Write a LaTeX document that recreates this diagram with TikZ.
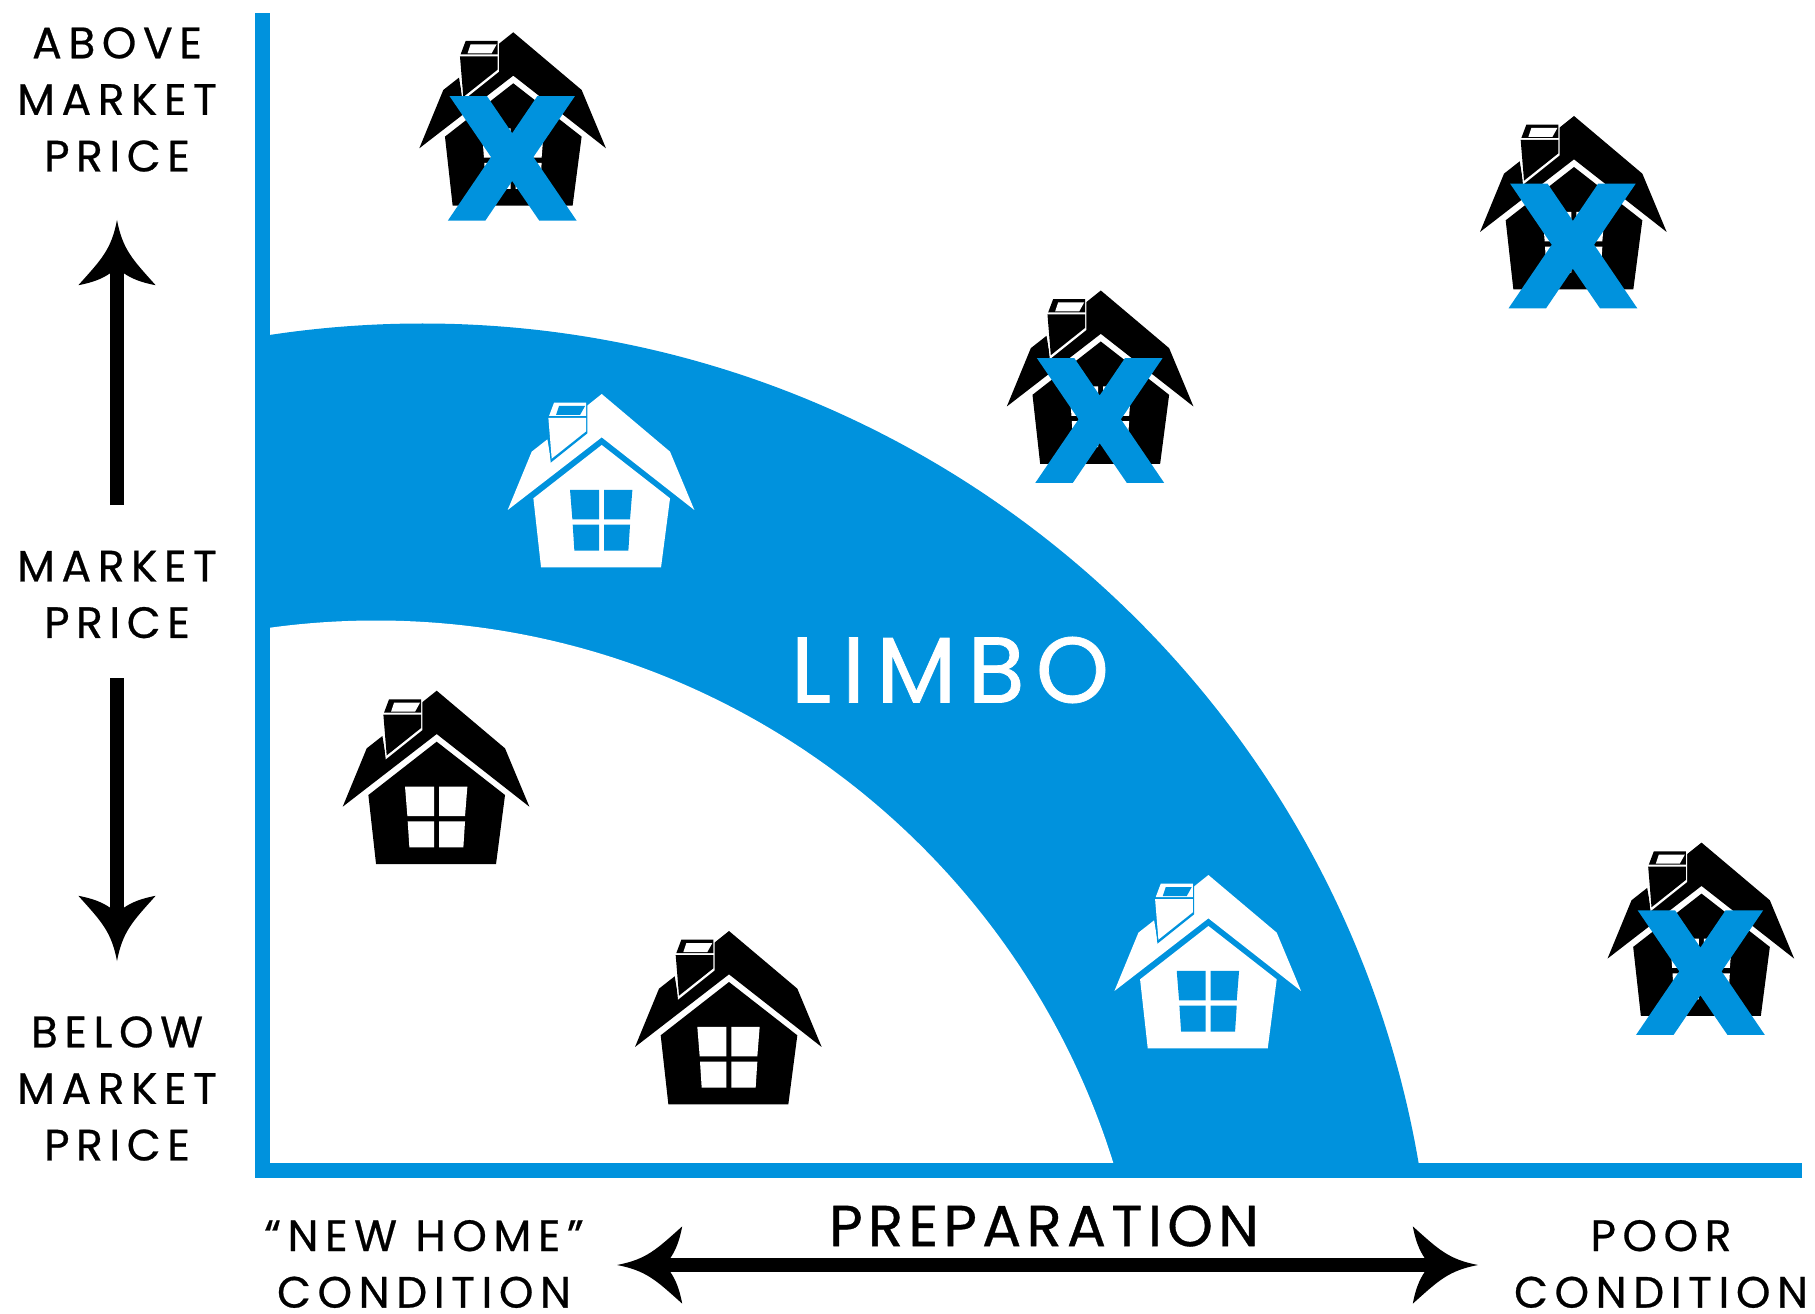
\documentclass[tikz,border=0pt]{standalone}
\usepackage{fontspec}
\setmainfont{Poppins}
\definecolor{limboblue}{HTML}{0092DD}
\pgfarrowsdeclare{swoop}{swoop}{
	\pgfarrowsleftextend{-1.04\pgflinewidth}
	\pgfarrowsrightextend{3.6\pgflinewidth}
}{
	\pgfsetdash{}{0pt}
	\pgfpathmoveto{\pgfqpoint{3.6\pgflinewidth}{0pt}}
	\pgfpathcurveto{\pgfqpoint{1.5\pgflinewidth}{.4\pgflinewidth}}{\pgfqpoint{.8\pgflinewidth}{1.1\pgflinewidth}}{\pgfqpoint{-1.04\pgflinewidth}{2.75\pgflinewidth}}
	\pgfpathcurveto{\pgfqpoint{-.85\pgflinewidth}{1.75\pgflinewidth}}{\pgfqpoint{-.6\pgflinewidth}{1.1\pgflinewidth}}{\pgfqpoint{-.2\pgflinewidth}{.5\pgflinewidth}}
	\pgfpathlineto{\pgfqpoint{-.2\pgflinewidth}{-.5\pgflinewidth}}
	\pgfpathcurveto{\pgfqpoint{-.6\pgflinewidth}{-1.1\pgflinewidth}}{\pgfqpoint{-.85\pgflinewidth}{-1.75\pgflinewidth}}{\pgfqpoint{-1.04\pgflinewidth}{-2.75\pgflinewidth}}
	\pgfpathcurveto{\pgfqpoint{.8\pgflinewidth}{-1.1\pgflinewidth}}{\pgfqpoint{1.5\pgflinewidth}{-.4\pgflinewidth}}{\pgfqpoint{3.6\pgflinewidth}{0pt}}
	\pgfpathclose
	\pgfusepathqfill
}
\tikzset{
	>=swoop,
	pics/cottage/.style 2 args={code={
		\fill[#1] (0,0)--(205,173)--(278,348)--(0,130)--(-282,348)--(-210,173)--(-163,136)--(-152,200)--(-45,116)--(-45,36)--cycle;
		\fill[#2] (-147,22)--(-43,22)--(-43,118)--(-153,206)--(-166,70)--cycle;
		\fill[#1] (-143,26)--(-47,26)--(-47,66)--(-158,66)--cycle;
		\fill[#1] (-160,72)--(-47,72)--(-47,112)--(-150,194)--cycle;
		\fill[#2] (-128,36)--(-50,36)--(-65,63)--(-137,63)--cycle;
		\fill[#1] (0,153)--(205,313)--(178,520)--(-182,520)--(-205,313)--cycle;
		\fill[#2] (-95,288)--(-8,288)--(-8,376)--(-88,376)--cycle;
		\fill[#2] (7,288)--(92,288)--(85,376)--(7,376)--cycle;
		\fill[#2] (-87,392)--(-8,392)--(-8,470)--(-82,470)--cycle;
		\fill[#2] (7,392)--(85,392)--(80,470)--(7,470)--cycle;
	}},
}
\newfontfamily\crossfont{DejaVu Sans Bold}[FakeBold=2.5]
\tikzstyle{axislabel}=[align=center,inner sep=0pt,font=\addfontfeature{LetterSpace=15,FakeBold=.6}\fontsize{25}{32.2}\selectfont]
\tikzstyle{limbolabel}=[text=white,inner sep=0pt,font=\addfontfeature{LetterSpace=12,FakeBold=.8}\fontsize{53}{60}\selectfont]
\tikzstyle{preplabel}=[inner sep=0pt,font=\addfontfeature{LetterSpace=9,FakeBold=.6}\fontsize{33}{40}\selectfont]
\tikzstyle{crossmark}=[text=limboblue,inner sep=0pt,font=\crossfont\fontsize{94}{100}\selectfont]
\tikzstyle{bigarrow}=[line width=8pt]

\begin{document}
\begin{tikzpicture}[x=.02cm,y=-.02cm]
	\useasboundingbox (0,0) rectangle (1815,1314);
	\begin{scope}
		\clip (270,13) rectangle (1802,1163);
		\fill[limboblue] (422.5,1334) circle[radius=1010.5];
		\fill[white] (376,1392.5) circle[radius=772];
	\end{scope}
	\fill[limboblue] (255,13) rectangle (270,1178);
	\fill[limboblue] (255,1163) rectangle (1802,1178);
	\foreach \x/\y in {436.7/690.7,729/931}
		\pic[scale=.3333] at (\x,\y) {cottage={black}{white}};
	\foreach \x/\y in {601.7/394,1208.4/875}
		\pic[scale=.3333] at (\x,\y) {cottage={white}{limboblue}};
	\foreach \x/\y/\d [count=\i] in {513.3/32.3/126,1100.8/290.5/130,1574/116/130,1701.5/842.6/130}{
		\pic[scale=.3333] at (\x,\y) {cottage={black}{white}};
		\node[crossmark] (cross\i) at (\x-1,\y+\d) {X};
	}
	\node[axislabel] (above) at (117,99.5) {ABOVE\\MARKET\\PRICE};
	\node[axislabel] (market) at (117,594.5) {MARKET\\PRICE};
	\node[axislabel] (below) at (117,1088.5) {BELOW\\MARKET\\PRICE};
	\node[axislabel] (newhome) at (424,1264) {“NEW HOME”\\CONDITION};
	\node[axislabel] (poor) at (1661,1264) {POOR\\CONDITION};
	\node[preplabel] (prep) at (1044,1226) {PREPARATION};
	\node[limbolabel] (limbo) at (950,670) {LIMBO};
	\coordinate (upfoot) at (117,505);
	\coordinate (uptip) at (117,220);
	\coordinate (downfoot) at (117,678);
	\coordinate (downtip) at (117,961);
	\coordinate (lefttip) at (617,1265);
	\coordinate (righttip) at (1478,1265);
	\draw[bigarrow,->] (upfoot)--(uptip);
	\draw[bigarrow,->] (downfoot)--(downtip);
	\draw[bigarrow,<->] (lefttip)--(righttip);
\end{tikzpicture}
\end{document}
